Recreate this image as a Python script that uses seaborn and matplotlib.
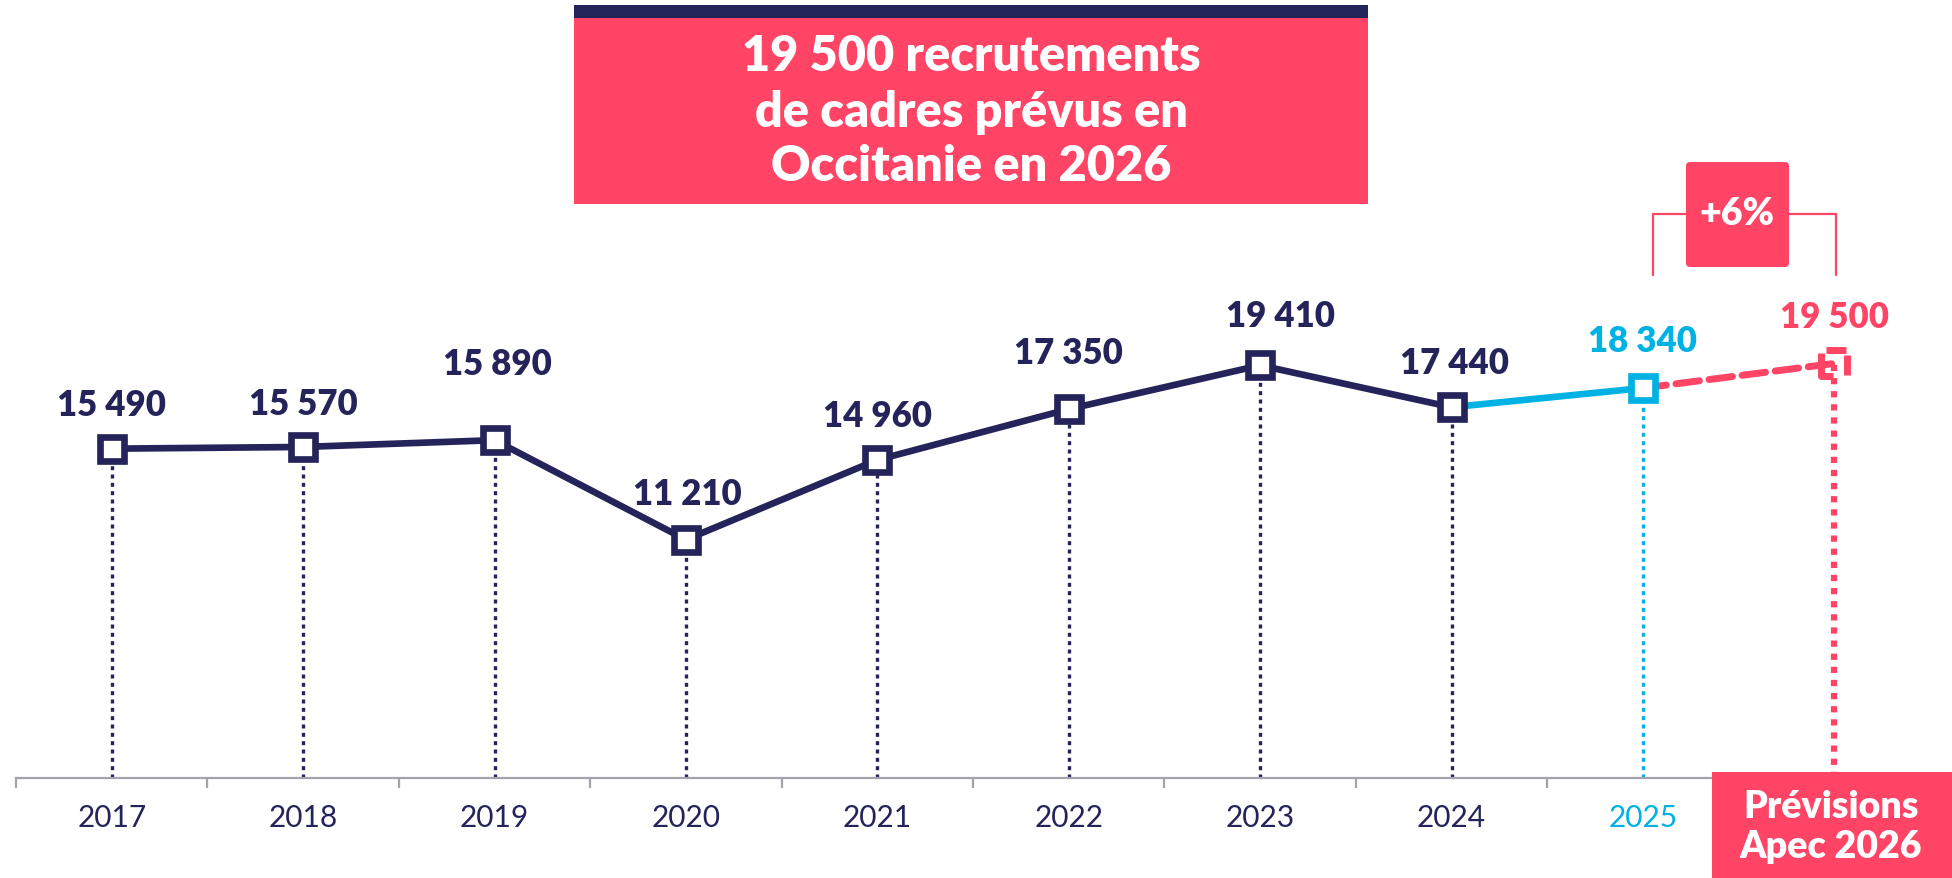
import matplotlib
matplotlib.use("Agg")
import numpy as np
import pandas as pd
import matplotlib.pyplot as plt
import seaborn as sns
from matplotlib.patches import Rectangle, FancyBboxPatch
from matplotlib.lines import Line2D
from matplotlib.path import Path

# ---------------- data ----------------
years = [2017, 2018, 2019, 2020, 2021, 2022, 2023, 2024, 2025, 2026]
recrutements = [15490, 15570, 15890, 11210, 14960, 17350, 19410, 17440, 18340, 19500]
tick_years = [2017, 2018, 2019, 2020, 2021, 2022, 2023, 2024, 2025]
title_lines = ["19 500 recrutements", "de cadres prévus en", "Occitanie en 2026"]
forecast_lines = ["Prévisions", "Apec 2026"]

# ---------------- style ----------------
NAVY = "#24245A"
CYAN = "#00B2E3"
PINK = "#FF4465"
GREY = "#A3A3AD"
W, H = 1952, 879

sns.set_theme(style="white")
plt.rcParams['font.family'] = ['Lato', 'DejaVu Sans']

fig = plt.figure(figsize=(W / 100, H / 100), dpi=100)
ax = fig.add_axes([16 / W, 100 / H, (1930 - 16) / W, 1 - 100 / H])

df = pd.DataFrame({"annee": years, "n": recrutements})
hist = df.iloc[:8]
est = df.iloc[7:9]
prev = df.iloc[8:10]

# vertical dotted drop lines
ax.vlines(hist["annee"], 0, hist["n"], colors=NAVY, linestyles=(0, (1.2, 1.3)), lw=2.4, zorder=1)
ax.vlines(est["annee"].iloc[1:], 0, est["n"].iloc[1:], colors=CYAN, linestyles=(0, (1.2, 1.3)), lw=2.4, zorder=1)
ax.vlines(prev["annee"].iloc[1:], 0, prev["n"].iloc[1:], colors=PINK, linestyles=(0, (1, 1.1)), lw=4.5, zorder=1)

# dashed square marker for forecast
verts = [(-0.6, 1), (0.9, 1),
         (-1, 0.75), (-1, -1), (-0.1, -1),
         (1, 0.6), (1, -0.9)]
codes = [Path.MOVETO, Path.LINETO,
         Path.MOVETO, Path.LINETO, Path.LINETO,
         Path.MOVETO, Path.LINETO]
dashed_sq = Path(verts, codes)

# forecast dashed line
sns.lineplot(data=prev, x="annee", y="n", ax=ax, color=PINK, lw=5,
             dashes=False, linestyle=(0, (3.4, 1.4)), dash_capstyle="round",
             marker=dashed_sq, markersize=19, markevery=[1],
             markerfacecolor="none", markeredgecolor=PINK, markeredgewidth=5, zorder=2)
# 2024 -> 2025 estimate
sns.lineplot(data=est, x="annee", y="n", ax=ax, color=CYAN, lw=4.8,
             marker="s", markersize=17, markevery=[1],
             markerfacecolor="white", markeredgecolor=CYAN, markeredgewidth=4.8, zorder=3)
# history
sns.lineplot(data=hist, x="annee", y="n", ax=ax, color=NAVY, lw=4.8,
             marker="s", markersize=17,
             markerfacecolor="white", markeredgecolor=NAVY, markeredgewidth=4.8, zorder=4)

# value labels
offsets = [(0, 32), (0, 31), (2, 55), (1, 33), (0, 32), (0, 41), (15, 36), (2, 32), (0, 34), (0, 34)]
label_colors = [NAVY] * 8 + [CYAN, PINK]
for (x, y), (dx, dy), c in zip(zip(years, recrutements), offsets, label_colors):
    ax.annotate(f"{y:,}".replace(",", " "), (x, y), xytext=(dx, dy), textcoords="offset points",
                ha="center", va="center", fontsize=25, fontweight="heavy", color=c, zorder=6)

# axes
ax.set_xlim(2016.5, 2026.5)
ax.set_ylim(0, 36640)
for s in ["top", "left", "right"]:
    ax.spines[s].set_visible(False)
ax.spines["bottom"].set_color(GREY)
ax.spines["bottom"].set_linewidth(1.6)
ax.set_yticks([])
ax.set_xticks(tick_years)
ax.set_xticklabels([str(y) for y in tick_years])
ax.set_xticks([y - 0.5 for y in years], minor=True)
ax.tick_params(axis="x", which="major", length=0, pad=18, labelsize=21.5, labelcolor=NAVY)
ax.tick_params(axis="x", which="minor", length=7, width=1.6, color=GREY, direction="out", bottom=True)
ax.get_xticklabels()[-1].set_color(CYAN)
ax.set_xlabel("")
ax.set_ylabel("")
ax.grid(False)

# ---------------- decorations (figure pixel coordinates) ----------------
def px(x, y):
    return (x / 100, (H - y) / 100)

T = fig.dpi_scale_trans

# title box
fig.add_artist(Rectangle(px(574, 205), (1368 - 574) / 100, (205 - 19) / 100, transform=T,
                         facecolor=PINK, edgecolor="none", zorder=1))
fig.add_artist(Rectangle(px(574, 19), (1368 - 574) / 100, (19 - 6) / 100, transform=T,
                         facecolor=NAVY, edgecolor="none", zorder=1))
for line, yy in zip(title_lines, [57, 113, 167]):
    fig.text(*px(971, yy), line, transform=T, ha="center", va="center",
             color="white", fontsize=35, fontweight="heavy", zorder=2)

# +6% bracket and box
pct = round((recrutements[-1] / recrutements[-2] - 1) * 100)
fig.add_artist(Line2D([1653 / 100, 1653 / 100, 1836 / 100, 1836 / 100],
                      [(H - 276) / 100, (H - 215) / 100, (H - 215) / 100, (H - 276) / 100],
                      transform=T, color=PINK, lw=1.6, zorder=1))
fig.add_artist(FancyBboxPatch(px(1686, 268), (1789 - 1686) / 100, (268 - 163) / 100,
                              boxstyle="round,pad=0,rounding_size=0.04", transform=T,
                              facecolor=PINK, edgecolor="none", zorder=2))
fig.text(*px(1737, 214), f"+{pct}%", transform=T, ha="center", va="center",
         color="white", fontsize=27, fontweight="heavy", zorder=3)

# forecast box
fig.add_artist(Rectangle(px(1712, 879), (1952 - 1712) / 100, (879 - 773) / 100, transform=T,
                         facecolor=PINK, edgecolor="none", zorder=5))
for line, yy in zip(forecast_lines, [807, 847]):
    fig.text(*px(1831, yy), line, transform=T, ha="center", va="center",
             color="white", fontsize=27, fontweight="heavy", zorder=6)

fig.savefig("out.png", dpi=100)
